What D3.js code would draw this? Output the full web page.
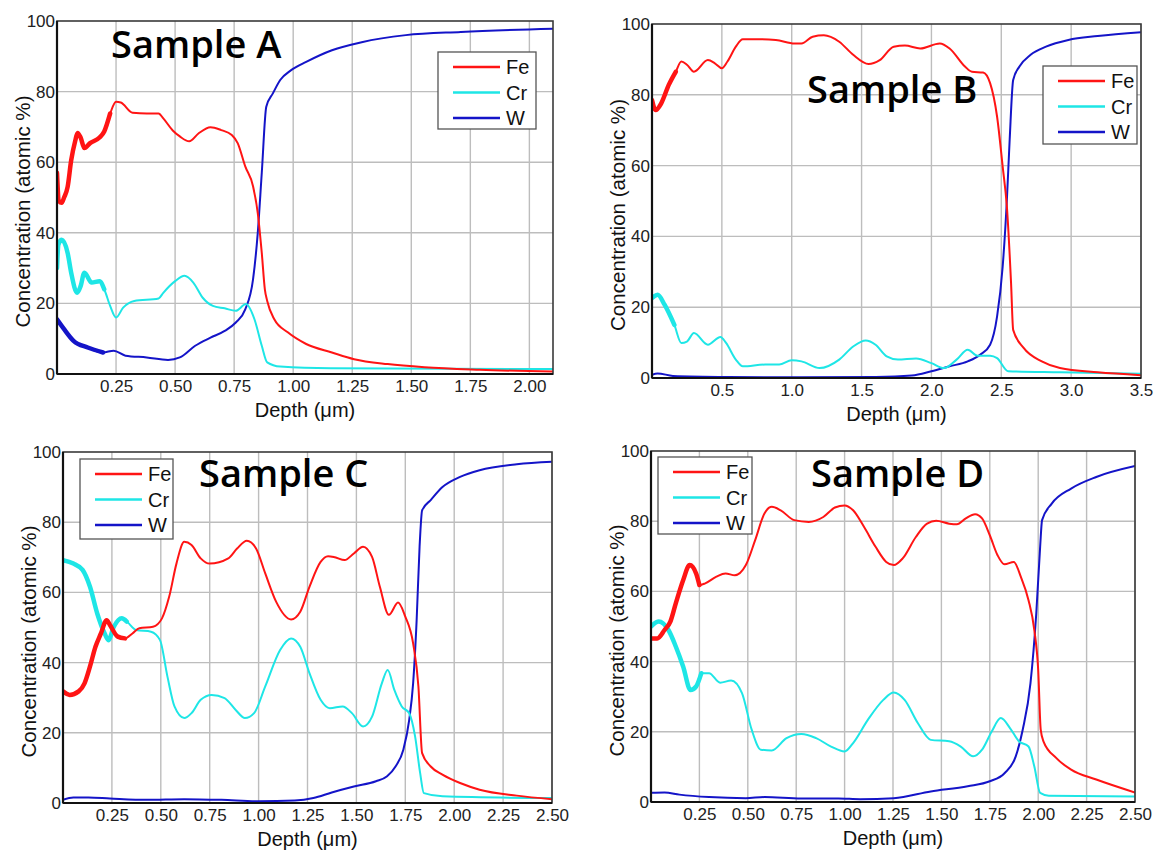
<!DOCTYPE html>
<html>
<head>
<meta charset="utf-8">
<script src="https://cdn.jsdelivr.net/npm/d3@7"></script>
<style>
  body { margin: 0; background: #fff; }
  svg { display: block; }
</style>
</head>
<body>
<svg id="chart" width="1167" height="855"></svg>
<script>
// Depth profiles: [depth (µm), concentration (atomic %)]
const sampleA_Fe = [[0,57],[0.008,49],[0.02,48.5],[0.03,50],[0.045,53],[0.06,60.5],[0.077,66],[0.087,68.3],[0.1,67],[0.116,64],[0.14,65.4],[0.18,67],[0.2,68.7],[0.225,73.8],[0.25,77.1],[0.27,76.9],[0.32,74],[0.38,73.8],[0.43,73.8],[0.45,72.4],[0.49,69],[0.52,67.3],[0.56,65.9],[0.6,68.2],[0.65,69.9],[0.695,69.1],[0.74,67.7],[0.765,65.4],[0.797,58.8],[0.83,53.2],[0.85,45.6],[0.867,34.3],[0.88,24],[0.89,20.7],[0.92,15.5],[0.977,11.8],[1.055,8.5],[1.164,6.1],[1.258,4.2],[1.4,2.8],[1.556,1.9],[1.79,1.2],[2.1,0.7]];
const sampleA_Cr = [[0,30],[0.006,36.7],[0.02,38],[0.045,34.3],[0.06,28.7],[0.085,23],[0.1,24.9],[0.116,28.7],[0.147,25.9],[0.18,26.3],[0.2,24],[0.225,19.3],[0.25,16],[0.28,18.8],[0.327,20.7],[0.43,21.4],[0.45,23],[0.5,26.3],[0.54,27.8],[0.577,25.9],[0.617,21.6],[0.66,19.3],[0.71,18.6],[0.757,17.9],[0.8,19.8],[0.836,15.5],[0.867,8],[0.89,3.3],[0.945,2.1],[1.16,1.6],[2.1,1.4]];
const sampleA_W = [[0,15.5],[0.03,12.7],[0.07,9.4],[0.13,7.5],[0.195,6.1],[0.24,6.6],[0.29,5.2],[0.38,4.7],[0.47,4],[0.52,4.7],[0.585,8],[0.65,10.3],[0.71,12.2],[0.757,14.6],[0.797,18.3],[0.83,26.8],[0.85,40],[0.867,57],[0.886,75.7],[0.914,79.5],[0.945,83.3],[0.99,86],[1.055,88.4],[1.164,91.7],[1.29,94],[1.477,96],[1.71,96.9],[2.1,97.8]];

const sampleB_Fe = [[0,78.5],[0.026,75.7],[0.066,77.6],[0.12,82.8],[0.17,86.5],[0.21,89.4],[0.25,88.5],[0.3,86.5],[0.4,89.8],[0.45,88.9],[0.5,87.5],[0.54,89.4],[0.6,93.6],[0.65,95.7],[0.75,95.7],[0.886,95.5],[1.02,94.5],[1.07,94.5],[1.15,96.4],[1.23,96.8],[1.34,95],[1.44,91.3],[1.55,88.7],[1.63,89.8],[1.73,93.6],[1.81,93.9],[1.92,93.1],[2.06,94.5],[2.13,93.1],[2.24,88],[2.29,86.5],[2.37,86.3],[2.42,83.3],[2.47,73.8],[2.51,59.7],[2.54,48.4],[2.57,26.8],[2.585,13.6],[2.66,8.5],[2.79,4.7],[2.92,2.8],[3.19,1.6],[3.5,0.8]];
const sampleB_Cr = [[0,22.6],[0.04,23.5],[0.09,20.7],[0.16,15],[0.21,9.9],[0.25,10.3],[0.3,12.7],[0.4,9.4],[0.49,11.6],[0.53,9.9],[0.6,5.2],[0.65,3.3],[0.81,3.8],[0.91,3.8],[1.0,5],[1.07,4.7],[1.2,2.8],[1.34,5.2],[1.44,8.9],[1.53,10.6],[1.6,9.4],[1.68,6.1],[1.76,5.2],[1.89,5.5],[2.0,4.2],[2.09,2.8],[2.18,5.2],[2.26,8],[2.33,6.3],[2.42,6.3],[2.47,5.6],[2.55,1.9],[2.92,1.6],[3.5,1.2]];
const sampleB_W = [[0,0.9],[0.04,1.3],[0.15,0.6],[0.54,0.3],[1.07,0.2],[1.6,0.3],[1.86,0.7],[2.0,1.9],[2.13,3.3],[2.26,4.7],[2.35,6.6],[2.42,9.4],[2.47,17.4],[2.51,31.5],[2.54,50.3],[2.56,67.3],[2.585,84.2],[2.63,88],[2.71,91.3],[2.82,93.6],[2.98,95.5],[3.19,96.6],[3.5,97.7]];

const sampleC_Fe = [[0,31.8],[0.034,30.8],[0.08,31.8],[0.11,34.1],[0.138,38.9],[0.166,44.5],[0.194,48.3],[0.223,52.1],[0.24,50.7],[0.28,47.4],[0.317,46.9],[0.355,48.3],[0.39,49.8],[0.46,50.2],[0.506,52.6],[0.543,58.8],[0.58,68.2],[0.62,74.4],[0.657,73.5],[0.704,69.7],[0.75,68.2],[0.845,69.7],[0.89,72.5],[0.94,74.7],[0.987,72.5],[1.034,65.4],[1.09,57.3],[1.166,52.3],[1.213,54.5],[1.26,61.6],[1.317,68.7],[1.355,70.3],[1.39,70],[1.44,69.2],[1.487,71.1],[1.534,73],[1.58,70.1],[1.62,61.6],[1.666,53.6],[1.713,57.1],[1.75,53.1],[1.79,45.5],[1.817,33.2],[1.836,14.2],[1.88,10.4],[1.94,8.1],[2.03,5.7],[2.13,3.8],[2.32,2.1],[2.5,1.1]];
const sampleC_Cr = [[0,69.2],[0.053,68.2],[0.1,66.4],[0.138,61.6],[0.175,54],[0.213,48.3],[0.232,46.4],[0.26,50.2],[0.3,52.6],[0.326,51.7],[0.374,49.3],[0.45,48.8],[0.496,46.4],[0.534,36],[0.57,27.5],[0.62,24.2],[0.657,25.6],[0.704,29.4],[0.76,30.8],[0.826,29.9],[0.883,26.5],[0.93,24.2],[0.977,25.6],[1.034,33.2],[1.11,43.6],[1.166,46.9],[1.213,44.5],[1.26,37],[1.317,29.4],[1.364,27],[1.43,27.5],[1.477,25.6],[1.534,21.8],[1.58,24.6],[1.63,34.1],[1.66,37.9],[1.694,32.2],[1.732,27.5],[1.77,25.6],[1.8,19],[1.826,8.5],[1.845,2.8],[1.94,1.9],[2.5,1.4]];
const sampleC_W = [[0,0.9],[0.053,1.6],[0.13,1.6],[0.24,1.3],[0.43,0.9],[0.62,1.1],[0.81,0.9],[1.0,0.5],[1.185,0.7],[1.28,1.4],[1.374,3],[1.487,4.7],[1.6,6.2],[1.657,7.6],[1.7,10.4],[1.74,15.2],[1.77,23.7],[1.79,34.1],[1.808,52.1],[1.823,73],[1.836,83.4],[1.88,86.3],[1.94,90],[2.03,92.9],[2.13,94.8],[2.32,96.5],[2.5,97.2]];

const sampleD_Fe = [[0,46.6],[0.032,46.6],[0.07,49],[0.1,51.4],[0.128,56.6],[0.166,63.2],[0.2,67.5],[0.233,65.1],[0.25,61.8],[0.28,62.3],[0.338,64.2],[0.385,65.1],[0.433,64.6],[0.49,67.5],[0.538,74.6],[0.586,82.2],[0.624,84.1],[0.67,83.1],[0.74,80.3],[0.815,79.8],[0.89,81.2],[0.95,83.9],[1.0,84.5],[1.044,83.1],[1.1,78.4],[1.16,72.7],[1.215,68.4],[1.254,67.5],[1.3,69.4],[1.368,75.5],[1.426,79.3],[1.473,80.1],[1.54,79.3],[1.58,79.1],[1.626,80.8],[1.674,82],[1.71,80.8],[1.75,76],[1.79,70.3],[1.826,67.7],[1.874,68.4],[1.91,64.2],[1.95,57.5],[1.98,49],[2.0,37.6],[2.013,20.6],[2.027,17.3],[2.094,12.5],[2.17,9.2],[2.3,6.4],[2.5,2.7]];
const sampleD_Cr = [[0,50],[0.04,51.4],[0.09,49],[0.128,44.3],[0.166,38.6],[0.204,31.9],[0.233,32.9],[0.26,36.7],[0.3,36.7],[0.357,34],[0.414,34.6],[0.47,31],[0.52,20.6],[0.567,14.9],[0.624,14.7],[0.7,18.2],[0.777,19.4],[0.853,18.2],[0.93,15.8],[1.0,14.4],[1.044,16.8],[1.12,23.4],[1.2,29.1],[1.254,31.2],[1.31,29.1],[1.378,22.5],[1.445,17.7],[1.54,17.3],[1.6,15.8],[1.664,13],[1.71,14.9],[1.76,20.1],[1.807,23.9],[1.855,21],[1.9,17.3],[1.95,15.8],[1.98,10.1],[2.01,2.6],[2.055,1.8],[2.5,1.6]];
const sampleD_W = [[0,2.6],[0.07,2.7],[0.147,2.1],[0.3,1.4],[0.49,1.1],[0.586,1.4],[0.777,1],[0.968,1],[1.08,0.8],[1.254,1.1],[1.445,3],[1.636,4.5],[1.75,5.9],[1.826,8.2],[1.884,13],[1.92,20.6],[1.96,33.8],[1.99,53.7],[2.01,72.7],[2.02,80.3],[2.07,85],[2.17,89.3],[2.3,92.6],[2.5,95.7]];

// Depth up to which each near-surface signal is noisy (drawn as a wider band)
const noisyDepthA = { Fe: 0.23, Cr: 0.21, W: 0.2 };
const noisyDepthB = { Fe: 0.17, Cr: 0.2, W: 0 };
const noisyDepthC = { Fe: 0.35, Cr: 0.35, W: 0 };
const noisyDepthD = { Fe: 0.27, Cr: 0.27, W: 0 };

const elements = ["Fe", "Cr", "W"];
const yTicks = [0, 20, 40, 60, 80, 100];
const xTicksA = [0.25, 0.5, 0.75, 1.0, 1.25, 1.5, 1.75, 2.0];
const xTicksB = [0.5, 1.0, 1.5, 2.0, 2.5, 3.0, 3.5];
const xTicksCD = [0.25, 0.5, 0.75, 1.0, 1.25, 1.5, 1.75, 2.0, 2.25, 2.5];
const sampleNames = ["Sample A", "Sample B", "Sample C", "Sample D"];

const colors = { Fe: "#ff1414", Cr: "#1ee6e6", W: "#1414c8" };

const panels = [
  { name: sampleNames[0], series: { Fe: sampleA_Fe, Cr: sampleA_Cr, W: sampleA_W }, noisy: noisyDepthA,
    xMax: 2.1, xTicks: xTicksA, fmt: d3.format(".2f"),
    box: { left: 57, top: 21, right: 553, bottom: 374 },
    legend: { x: 438, y: 52, w: 98, h: 77 }, title: { x: 111, y: 58 } },
  { name: sampleNames[1], series: { Fe: sampleB_Fe, Cr: sampleB_Cr, W: sampleB_W }, noisy: noisyDepthB,
    xMax: 3.5, xTicks: xTicksB, fmt: d3.format(".1f"),
    box: { left: 652, top: 24, right: 1141, bottom: 378 },
    legend: { x: 1043, y: 66, w: 94, h: 78 }, title: { x: 807, y: 103 } },
  { name: sampleNames[2], series: { Fe: sampleC_Fe, Cr: sampleC_Cr, W: sampleC_W }, noisy: noisyDepthC,
    xMax: 2.5, xTicks: xTicksCD, fmt: d3.format(".2f"),
    box: { left: 63, top: 452, right: 552, bottom: 803 },
    legend: { x: 80, y: 459, w: 93, h: 80 }, title: { x: 199, y: 487 } },
  { name: sampleNames[3], series: { Fe: sampleD_Fe, Cr: sampleD_Cr, W: sampleD_W }, noisy: noisyDepthD,
    xMax: 2.5, xTicks: xTicksCD, fmt: d3.format(".2f"),
    box: { left: 651, top: 451, right: 1135, bottom: 802 },
    legend: { x: 658, y: 457, w: 94, h: 77 }, title: { x: 811, y: 487 } }
];

const svg = d3.select("#chart");
const tickFont = "'Liberation Sans', Arial, sans-serif";

panels.forEach((p, i) => {
  const b = p.box;
  const x = d3.scaleLinear().domain([0, p.xMax]).range([b.left, b.right]);
  const y = d3.scaleLinear().domain([0, 100]).range([b.bottom, b.top]);
  const g = svg.append("g").attr("class", "panel");

  // grid
  const grid = g.append("g").attr("stroke", "#bdbdbd").attr("stroke-width", 1.4);
  grid.selectAll("line.gx").data(p.xTicks).join("line")
    .attr("x1", d => x(d)).attr("x2", d => x(d))
    .attr("y1", b.top).attr("y2", b.bottom);
  grid.selectAll("line.gy").data(yTicks.filter(t => t > 0 && t < 100)).join("line")
    .attr("x1", b.left).attr("x2", b.right)
    .attr("y1", d => y(d)).attr("y2", d => y(d));

  // curves
  const clipId = "clip" + i;
  g.append("clipPath").attr("id", clipId).append("rect")
    .attr("x", b.left).attr("y", b.top - 2).attr("width", b.right - b.left).attr("height", b.bottom - b.top + 2);
  const line = d3.line().x(d => x(d[0])).y(d => y(d[1])).curve(d3.curveMonotoneX);
  const curves = g.append("g").attr("clip-path", `url(#${clipId})`).attr("fill", "none")
    .attr("stroke-linejoin", "round").attr("stroke-linecap", "round");
  ["W", "Cr", "Fe"].forEach(el => {
    const data = p.series[el];
    curves.append("path").attr("d", line(data)).attr("stroke", colors[el]).attr("stroke-width", 2);
    const lim = p.noisy[el];
    if (lim > 0) {
      const part = data.filter(d => d[0] <= lim);
      curves.append("path").attr("d", line(part)).attr("stroke", colors[el]).attr("stroke-width", 4.5);
    }
  });

  // frame
  g.append("rect").attr("x", b.left).attr("y", b.top)
    .attr("width", b.right - b.left).attr("height", b.bottom - b.top)
    .attr("fill", "none").attr("stroke", "#3a3a3a").attr("stroke-width", 1.6);
  g.append("line").attr("x1", b.left).attr("x2", b.left).attr("y1", b.top).attr("y2", b.bottom)
    .attr("stroke", "#111").attr("stroke-width", 2.2);
  g.append("line").attr("x1", b.left).attr("x2", b.right).attr("y1", b.bottom).attr("y2", b.bottom)
    .attr("stroke", "#111").attr("stroke-width", 2.2);

  // axes (labels only; grid and frame drawn above)
  const xAxis = d3.axisBottom(x).tickValues(p.xTicks).tickFormat(p.fmt).tickSize(0).tickPadding(6);
  const xg = g.append("g").attr("transform", `translate(0,${b.bottom})`).call(xAxis);
  const yAxis = d3.axisLeft(y).tickValues(yTicks).tickFormat(d3.format("d")).tickSize(0).tickPadding(2);
  const yg = g.append("g").attr("transform", `translate(${b.left},0)`).call(yAxis);
  [xg, yg].forEach(a => {
    a.select(".domain").remove();
    a.selectAll("text").attr("font-family", tickFont).attr("font-size", 17).attr("fill", "#222");
  });

  // axis titles
  g.append("text")
    .attr("transform", `translate(${b.left - 27},${(b.top + b.bottom) / 2 + 14}) rotate(-90)`)
    .attr("text-anchor", "middle").attr("font-family", tickFont).attr("font-size", 20).attr("fill", "#111")
    .attr("textLength", 232).attr("lengthAdjust", "spacingAndGlyphs")
    .text("Concentration (atomic %)");
  g.append("text")
    .attr("x", (b.left + b.right) / 2).attr("y", b.bottom + 43)
    .attr("text-anchor", "middle").attr("font-family", tickFont).attr("font-size", 20).attr("fill", "#111")
    .text("Depth (\u03bcm)");

  // sample title
  g.append("text").attr("x", p.title.x).attr("y", p.title.y)
    .attr("font-family", "'Open Sans', 'Noto Sans', sans-serif").attr("font-weight", 600)
    .attr("font-size", 38).attr("fill", "#000").text(p.name);

  // legend
  const L = p.legend;
  const lg = g.append("g").attr("transform", `translate(${L.x},${L.y})`);
  lg.append("rect").attr("width", L.w).attr("height", L.h)
    .attr("fill", "#fff").attr("stroke", "#555").attr("stroke-width", 1.3);
  elements.forEach((el, k) => {
    const cy = 15 + k * 25.5;
    lg.append("line").attr("x1", 15).attr("x2", 62).attr("y1", cy).attr("y2", cy)
      .attr("stroke", colors[el]).attr("stroke-width", 2.5);
    lg.append("text").attr("x", 68).attr("y", cy).attr("dy", "0.36em")
      .attr("font-family", tickFont).attr("font-size", 20).attr("fill", "#111").text(el);
  });
});
</script>
</body>
</html>
